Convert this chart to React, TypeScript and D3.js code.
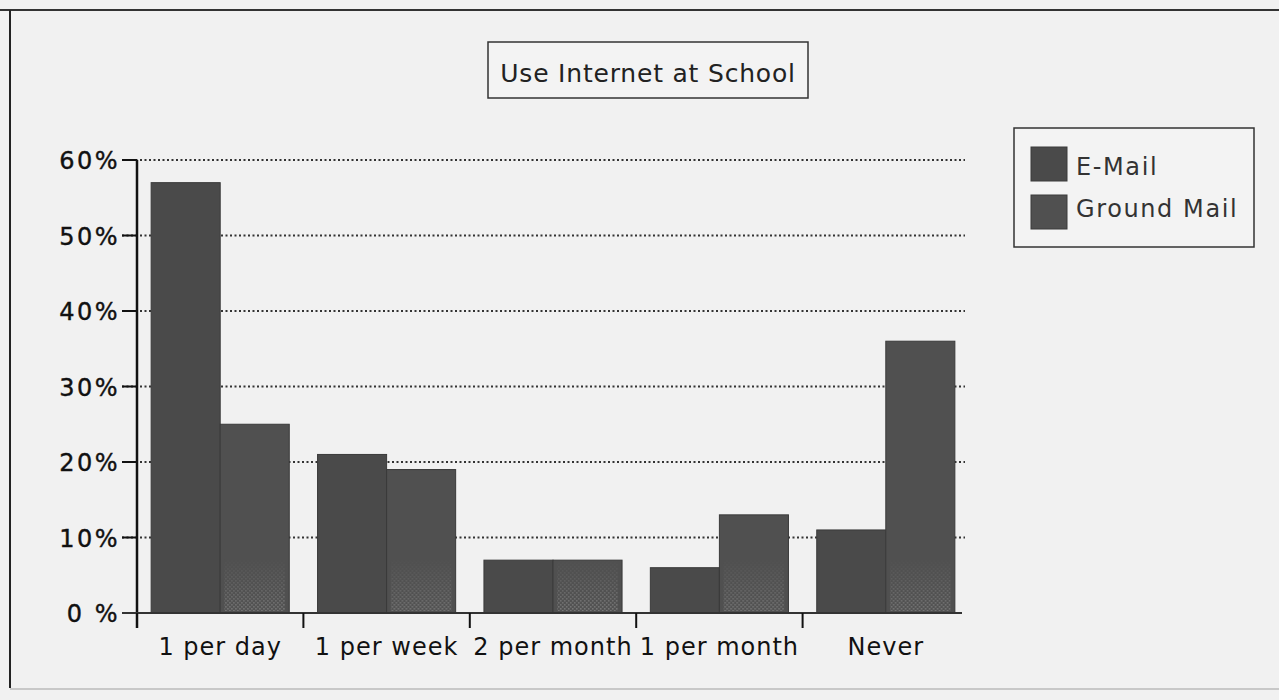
import React from "react";
import * as d3 from "d3";

const categories = ["1 per day", "1 per week", "2 per month", "1 per month", "Never"];
const seriesNames = ["E-Mail", "Ground Mail"];
const emailValues = [57, 21, 7, 6, 11];
const groundValues = [25, 19, 7, 13, 36];
const yTicks = [0, 10, 20, 30, 40, 50, 60];
const title = "Use Internet at School";

const W = 1279;
const H = 700;
const FONT = "'DejaVu Sans', 'Open Sans', sans-serif";

export default function App() {
  const x0 = 137;
  const x1 = 969;
  const yBase = 613;
  const yTop = 160;
  const x = d3.scaleBand<string>().domain(categories).range([x0, x1]).paddingInner(0.17).paddingOuter(0.085);
  const xs = d3.scaleBand<string>().domain(seriesNames).range([0, x.bandwidth()]);
  const y = d3.scaleLinear().domain([0, 60]).range([yBase, yTop]);
  const step = x.step();
  const series = [emailValues, groundValues];
  const fills = ["#4a4a4a", "#505050"];

  return (
    <svg width={W} height={H} style={{ position: "absolute", left: 0, top: 0, background: "#f1f1f1" }}>
      <defs>
        <pattern id="dither" width="4" height="4" patternUnits="userSpaceOnUse">
          <rect width="4" height="4" fill="#555" />
          <rect x="0" y="0" width="1.6" height="1.6" fill="#a0a0a0" />
          <rect x="2" y="2" width="1.6" height="1.6" fill="#a0a0a0" />
        </pattern>
        <linearGradient id="fade" x1="0" y1="1" x2="0" y2="0">
          <stop offset="0" stopColor="white" stopOpacity="1" />
          <stop offset="1" stopColor="white" stopOpacity="0" />
        </linearGradient>
        <mask id="fadeMask" maskContentUnits="objectBoundingBox">
          <rect x="0" y="0" width="1" height="1" fill="url(#fade)" />
        </mask>
      </defs>
      <rect x={0} y={0} width={W} height={H} fill="#f1f1f1" />
      {/* frame */}
      <line x1={0} x2={W} y1={10} y2={10} stroke="#333" strokeWidth={2} />
      <line x1={10} x2={10} y1={10} y2={688} stroke="#222" strokeWidth={2} />
      <line x1={10} x2={W} y1={689} y2={689} stroke="#c8c8c8" strokeWidth={2} />

      {/* title */}
      <rect x={488} y={42} width={320} height={56} fill="#f3f3f3" stroke="#333" strokeWidth={1.5} />
      <text x={648} y={82} textAnchor="middle" fontFamily={FONT} fontSize={25} fill="#222" letterSpacing={0.8}>
        {title}
      </text>

      {/* gridlines */}
      {yTicks.filter((t) => t > 0).map((t) => (
        <line key={t} x1={122} x2={965} y1={y(t)} y2={y(t)} stroke="#333" strokeWidth={2} strokeDasharray="2 2.5" />
      ))}

      {/* bars */}
      {categories.map((c, i) => (
        <g key={c} transform={`translate(${x(c)},0)`}>
          {series.map((vals, s) => {
            const top = y(vals[i]);
            const h = yBase - top;
            const dh = Math.min(h, 55);
            return (
              <g key={s}>
                <rect
                  x={xs(seriesNames[s])}
                  y={top}
                  width={xs.bandwidth()}
                  height={h}
                  fill={fills[s]}
                  stroke="#3a3a3a"
                  strokeWidth={1}
                />
                {s === 1 && (
                  <rect
                    x={(xs(seriesNames[s]) as number) + 4}
                    y={yBase - dh}
                    width={xs.bandwidth() - 8}
                    height={dh - 2}
                    fill="url(#dither)"
                    opacity={0.5}
                    mask="url(#fadeMask)"
                  />
                )}
              </g>
            );
          })}
        </g>
      ))}

      {/* y axis */}
      <line x1={x0} x2={x0} y1={yTop} y2={yBase + 15} stroke="#111" strokeWidth={2.5} />
      {yTicks.map((t) => (
        <g key={t}>
          <line x1={122} x2={x0} y1={y(t)} y2={y(t)} stroke="#111" strokeWidth={2} />
          <text x={120} y={y(t) + 9} textAnchor="end" fontFamily={FONT} fontSize={24} fill="#111" letterSpacing={2.5} stroke="#111" strokeWidth={0.4}>
            {t === 0 ? "0 %" : `${t}%`}
          </text>
        </g>
      ))}

      {/* x axis */}
      <line x1={122} x2={962} y1={yBase} y2={yBase} stroke="#333" strokeWidth={2} />
      {categories.map((c, i) => (
        <line key={c} x1={x0 + i * step} x2={x0 + i * step} y1={yBase} y2={yBase + 15} stroke="#111" strokeWidth={2} />
      ))}
      {categories.map((c) => (
        <text key={c} x={(x(c) as number) + x.bandwidth() / 2} y={655} textAnchor="middle" fontFamily={FONT} fontSize={24} fill="#111" letterSpacing={1}>
          {c}
        </text>
      ))}

      {/* legend */}
      <rect x={1014} y={128} width={240} height={119} fill="#f3f3f3" stroke="#333" strokeWidth={1.5} />
      {seriesNames.map((n, i) => (
        <g key={n}>
          <rect x={1031} y={147 + i * 48} width={36} height={34} fill={fills[i]} stroke="#3a3a3a" />
          <text x={1076} y={175 + i * 42} fontFamily={FONT} fontSize={24} fill="#333" letterSpacing={1.6}>
            {i === 0 ? "E-Mail" : n}
          </text>
        </g>
      ))}
    </svg>
  );
}
